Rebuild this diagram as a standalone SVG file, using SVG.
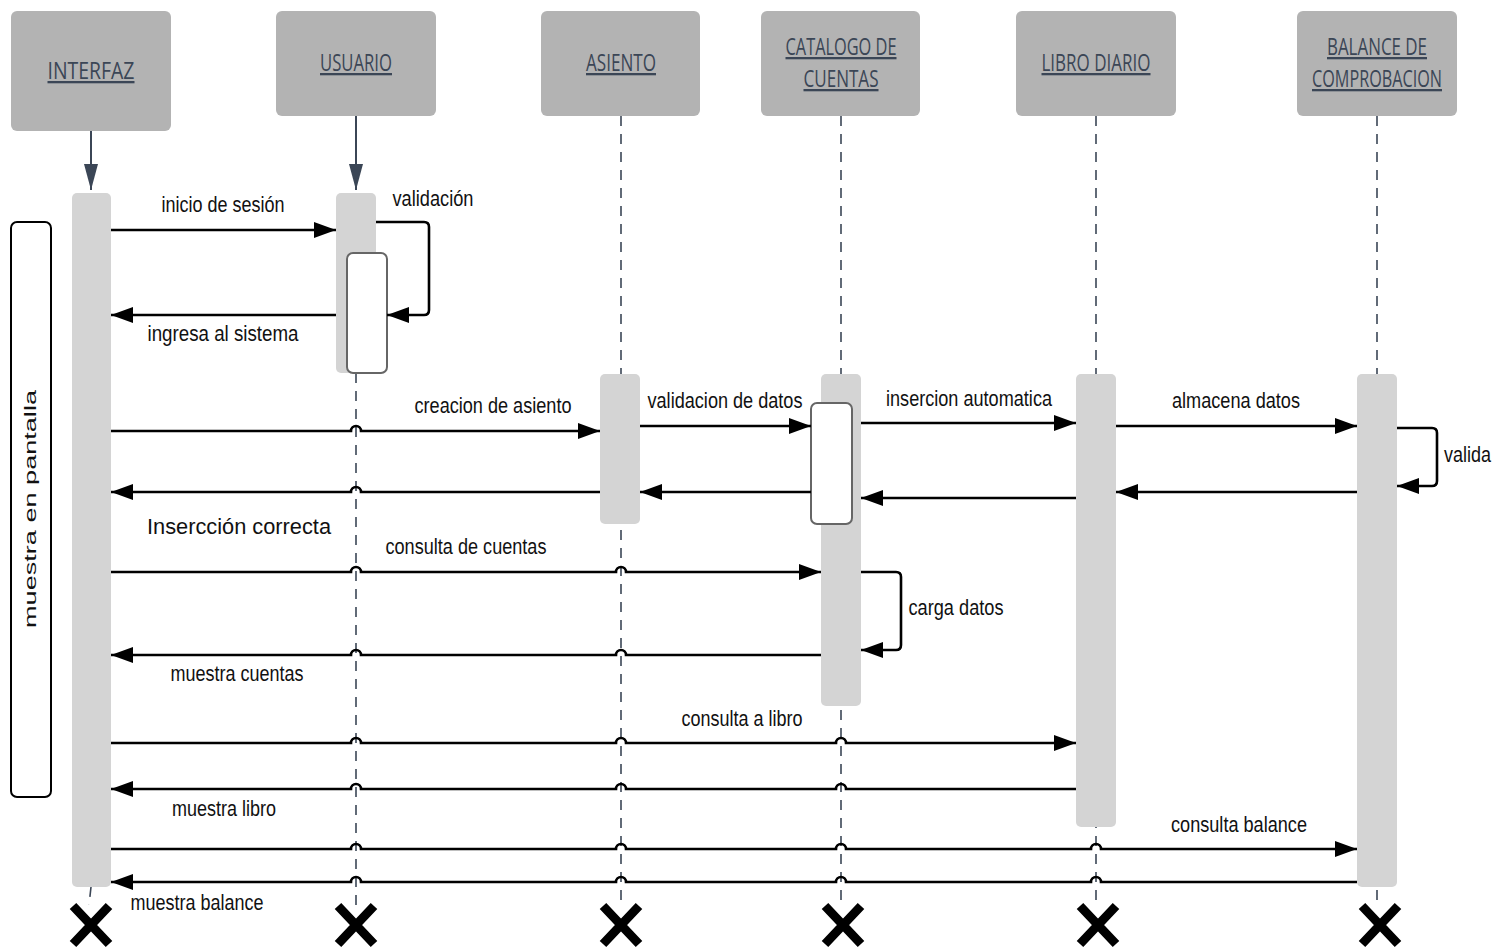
<svg xmlns="http://www.w3.org/2000/svg" width="1496" height="949" viewBox="0 0 1496 949">
<defs>
<style>
.hdr{fill:#b3b3b3}
.htxt{font-family:"Open Sans","Liberation Sans",sans-serif;font-size:23px;fill:#3b4656;text-anchor:middle;text-decoration:underline}
.bar{fill:#d4d4d4}
.inner{fill:#ffffff;stroke:#666666;stroke-width:2}
.life{stroke:#3b4656;stroke-width:1.6;stroke-dasharray:10 8;fill:none}
.msg{stroke:#000;stroke-width:2.6;fill:none}
.lbl{font-family:"Liberation Sans",Arial,sans-serif;font-size:22px;fill:#111;text-anchor:middle}
.xm{stroke:#000;stroke-width:9;stroke-linecap:butt}
</style>
<marker id="ah" markerUnits="userSpaceOnUse" markerWidth="22" markerHeight="16" refX="22" refY="8" orient="auto">
<path d="M0,0 L22,8 L0,16 z" fill="#000"/>
</marker>
<marker id="ah2" markerUnits="userSpaceOnUse" markerWidth="14" markerHeight="26" refX="7" refY="26" orient="0">
<path d="M0,0 L14,0 L7,26 z" fill="#3b4656"/>
</marker>
</defs>
<rect width="1496" height="949" fill="#ffffff"/>

<g id="lifelines">
<line class="life" x1="621" y1="116" x2="621" y2="905"/>
<line class="life" x1="841" y1="116" x2="841" y2="905"/>
<line class="life" x1="1096" y1="116" x2="1096" y2="905"/>
<line class="life" x1="1377" y1="116" x2="1377" y2="905"/>
<line class="life" x1="356" y1="373" x2="356" y2="905"/>
<line class="life" x1="91" y1="887" x2="89" y2="905"/>
</g>

<g id="node-interfaz">
<rect class="hdr" x="11" y="11" width="160" height="120" rx="6"/>
<text class="htxt" x="91" y="79" textLength="87" lengthAdjust="spacingAndGlyphs">INTERFAZ</text>
<line x1="91" y1="131" x2="91" y2="190" stroke="#3b4656" stroke-width="2" marker-end="url(#ah2)"/>
<rect class="bar" x="72" y="193" width="39" height="694" rx="5"/>
</g>
<g id="node-usuario">
<rect class="hdr" x="276" y="11" width="160" height="105" rx="6"/>
<text class="htxt" x="356" y="71" textLength="72" lengthAdjust="spacingAndGlyphs">USUARIO</text>
<line x1="356" y1="116" x2="356" y2="190" stroke="#3b4656" stroke-width="2" marker-end="url(#ah2)"/>
<rect class="bar" x="336" y="193" width="40" height="180" rx="5"/>
<rect class="inner" x="347" y="253" width="40" height="120" rx="6"/>
</g>
<g id="node-asiento">
<rect class="hdr" x="541" y="11" width="159" height="105" rx="6"/>
<text class="htxt" x="621" y="71" textLength="70" lengthAdjust="spacingAndGlyphs">ASIENTO</text>
<rect class="bar" x="600" y="374" width="40" height="150" rx="5"/>
</g>
<g id="node-catalogo">
<rect class="hdr" x="761" y="11" width="159" height="105" rx="6"/>
<text class="htxt" x="841" y="55" textLength="111" lengthAdjust="spacingAndGlyphs">CATALOGO DE</text>
<text class="htxt" x="841" y="87" textLength="75" lengthAdjust="spacingAndGlyphs">CUENTAS</text>
<rect class="bar" x="821" y="374" width="40" height="332" rx="5"/>
<rect class="inner" x="811" y="403" width="41" height="121" rx="6"/>
</g>
<g id="node-libro">
<rect class="hdr" x="1016" y="11" width="160" height="105" rx="6"/>
<text class="htxt" x="1096" y="71" textLength="109" lengthAdjust="spacingAndGlyphs">LIBRO DIARIO</text>
<rect class="bar" x="1076" y="374" width="40" height="453" rx="5"/>
</g>
<g id="node-balance">
<rect class="hdr" x="1297" y="11" width="160" height="105" rx="6"/>
<text class="htxt" x="1377" y="55" textLength="100" lengthAdjust="spacingAndGlyphs">BALANCE DE</text>
<text class="htxt" x="1377" y="87" textLength="130" lengthAdjust="spacingAndGlyphs">COMPROBACION</text>
<rect class="bar" x="1357" y="374" width="40" height="513" rx="5"/>
</g>

<g id="node-pantalla">
<rect x="11" y="222" width="40" height="575" rx="6" fill="none" stroke="#000" stroke-width="2"/>
<text x="30" y="509" transform="rotate(-90 30 509)" font-family="'Liberation Sans',Arial,sans-serif" font-size="17" fill="#111" text-anchor="middle" dy="6" textLength="238" lengthAdjust="spacingAndGlyphs">muestra en pantalla</text>
</g>

<g id="connectors">
<path class="msg" d="M111,230 H336" marker-end="url(#ah)"/>
<path class="msg" d="M376,222 H424 Q429,222 429,227 V310 Q429,315 424,315 H387" marker-end="url(#ah)"/>
<path class="msg" d="M336,315 H111" marker-end="url(#ah)"/>
<path class="msg" d="M111,431 H351 A5,5 0 0 1 361,431 H600" marker-end="url(#ah)"/>
<path class="msg" d="M600,492 H361 A5,5 0 0 0 351,492 H111" marker-end="url(#ah)"/>
<path class="msg" d="M640,426 H811" marker-end="url(#ah)"/>
<path class="msg" d="M811,492 H640" marker-end="url(#ah)"/>
<path class="msg" d="M861,423 H1076" marker-end="url(#ah)"/>
<path class="msg" d="M1076,498 H861" marker-end="url(#ah)"/>
<path class="msg" d="M1116,426 H1357" marker-end="url(#ah)"/>
<path class="msg" d="M1357,492 H1116" marker-end="url(#ah)"/>
<path class="msg" d="M1397,428 H1432 Q1437,428 1437,433 V481 Q1437,486 1432,486 H1397" marker-end="url(#ah)"/>
<path class="msg" d="M111,572 H351 A5,5 0 0 1 361,572 H616 A5,5 0 0 1 626,572 H821" marker-end="url(#ah)"/>
<path class="msg" d="M861,572 H896 Q901,572 901,577 V645 Q901,650 896,650 H861" marker-end="url(#ah)"/>
<path class="msg" d="M821,655 H626 A5,5 0 0 0 616,655 H361 A5,5 0 0 0 351,655 H111" marker-end="url(#ah)"/>
<path class="msg" d="M111,743 H351 A5,5 0 0 1 361,743 H616 A5,5 0 0 1 626,743 H836 A5,5 0 0 1 846,743 H1076" marker-end="url(#ah)"/>
<path class="msg" d="M1076,789 H846 A5,5 0 0 0 836,789 H626 A5,5 0 0 0 616,789 H361 A5,5 0 0 0 351,789 H111" marker-end="url(#ah)"/>
<path class="msg" d="M111,849 H351 A5,5 0 0 1 361,849 H616 A5,5 0 0 1 626,849 H836 A5,5 0 0 1 846,849 H1091 A5,5 0 0 1 1101,849 H1357" marker-end="url(#ah)"/>
<path class="msg" d="M1357,882 H1101 A5,5 0 0 0 1091,882 H846 A5,5 0 0 0 836,882 H626 A5,5 0 0 0 616,882 H361 A5,5 0 0 0 351,882 H111" marker-end="url(#ah)"/>
</g>

<g id="labels">
<text class="lbl" x="223" y="212" textLength="123" lengthAdjust="spacingAndGlyphs">inicio de sesión</text>
<text class="lbl" x="433" y="206" textLength="81" lengthAdjust="spacingAndGlyphs">validación</text>
<text class="lbl" x="223" y="341" textLength="151" lengthAdjust="spacingAndGlyphs">ingresa al  sistema</text>
<text class="lbl" x="493" y="413" textLength="157" lengthAdjust="spacingAndGlyphs">creacion de asiento</text>
<text class="lbl" x="725" y="408" textLength="155" lengthAdjust="spacingAndGlyphs">validacion de datos</text>
<text class="lbl" x="969" y="406" textLength="166" lengthAdjust="spacingAndGlyphs">insercion automatica</text>
<text class="lbl" x="1236" y="408" textLength="128" lengthAdjust="spacingAndGlyphs">almacena datos</text>
<text class="lbl" x="1444" y="462" font-size="19" text-anchor="start" style="text-anchor:start" textLength="47" lengthAdjust="spacingAndGlyphs">valida</text>
<text class="lbl" x="239" y="534" font-size="29" textLength="184" lengthAdjust="spacingAndGlyphs">Insercción correcta</text>
<text class="lbl" x="466" y="554" textLength="161" lengthAdjust="spacingAndGlyphs">consulta de cuentas</text>
<text class="lbl" x="956" y="615" textLength="95" lengthAdjust="spacingAndGlyphs">carga datos</text>
<text class="lbl" x="237" y="681" textLength="133" lengthAdjust="spacingAndGlyphs">muestra cuentas</text>
<text class="lbl" x="742" y="726" textLength="121" lengthAdjust="spacingAndGlyphs">consulta a libro</text>
<text class="lbl" x="224" y="816" textLength="104" lengthAdjust="spacingAndGlyphs">muestra libro</text>
<text class="lbl" x="1239" y="832" textLength="136" lengthAdjust="spacingAndGlyphs">consulta balance</text>
<text class="lbl" x="197" y="910" textLength="133" lengthAdjust="spacingAndGlyphs">muestra balance</text>
</g>

<g id="destroy-marks">
<path class="xm" d="M73,906 L109,944 M109,906 L73,944"/>
<path class="xm" d="M338,906 L374,944 M374,906 L338,944"/>
<path class="xm" d="M603,906 L639,944 M639,906 L603,944"/>
<path class="xm" d="M825,906 L861,944 M861,906 L825,944"/>
<path class="xm" d="M1080,906 L1116,944 M1116,906 L1080,944"/>
<path class="xm" d="M1362,906 L1398,944 M1398,906 L1362,944"/>
</g>
</svg>
